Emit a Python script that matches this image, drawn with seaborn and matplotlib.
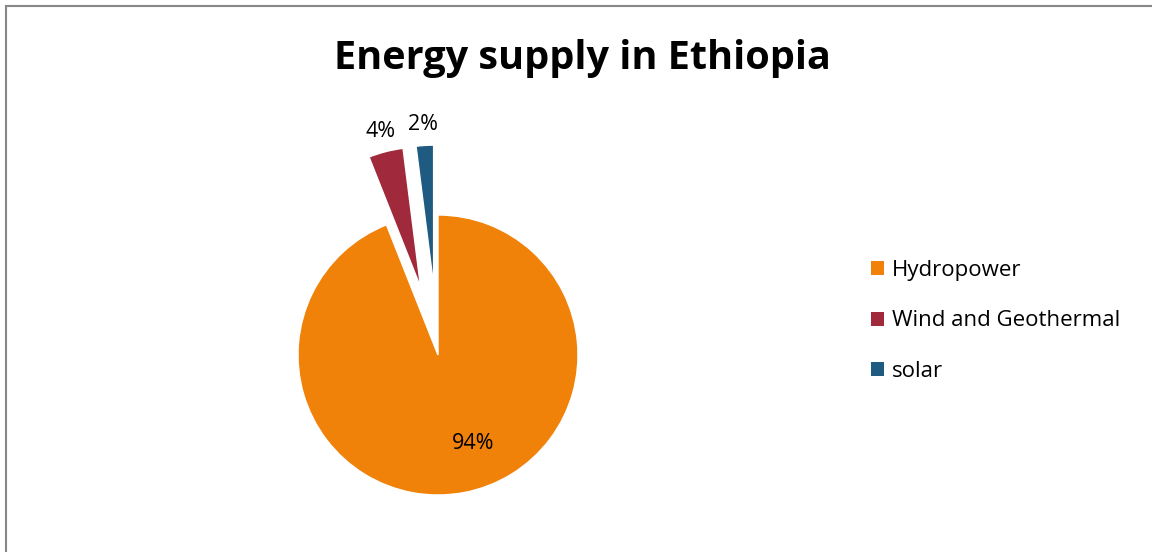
import numpy as np
import matplotlib
matplotlib.use("Agg")
import matplotlib.pyplot as plt
from matplotlib.patches import Rectangle, Patch
import seaborn as sns

categories = ["Hydropower", "Wind and Geothermal", "solar"]
values = [94, 4, 2]
colors = ["#F0820A", "#A02A3C", "#1F5A80"]
explode = [0.0, 0.5, 0.5]
title = "Energy supply in Ethiopia"

sns.set_theme(style="white")
plt.rcParams["font.family"] = ["Open Sans", "DejaVu Sans"]

W, H = 1152, 552
fig = plt.figure(figsize=(W / 100, H / 100), dpi=100)
fig.patch.set_facecolor("white")

# pie axes: center at px (438,355), radius 140 px
R = 140
cx, cy = 438, 355
x0, x1 = cx - 2 * R, cx + 2 * R
ytop, ybot = cy - 2.0 * R, cy + 1.4 * R
ax = fig.add_axes([x0 / W, (H - ybot) / H, (x1 - x0) / W, (ybot - ytop) / H])

wedges, texts, autotexts = ax.pie(
    values, colors=colors, explode=explode, startangle=90, counterclock=False,
    autopct=lambda p: f"{p:.0f}%", pctdistance=0.68,
    wedgeprops=dict(edgecolor="white", linewidth=1.0),
    textprops=dict(fontsize=15.5, color="#000000"),
)
ax.set_xlim(-2, 2)
ax.set_ylim(-1.4, 2.0)
ax.set_aspect("equal")
ax.axis("off")

# reposition labels of exploded slices outside the slice
for w, t, e in zip(wedges, autotexts, explode):
    ang = np.deg2rad((w.theta1 + w.theta2) / 2)
    if e > 0:
        d = e + 1.15
        t.set_position((d * np.cos(ang), d * np.sin(ang)))
    else:
        d = 0.64
        t.set_position((d * np.cos(ang) + 0.13, d * np.sin(ang)))

fig.text(582 / W, 1 - 59 / H, title, ha="center", va="center",
         fontsize=28.5, fontweight="bold", color="#000000")

handles = [Patch(facecolor=c, edgecolor="none") for c in colors]
leg = fig.legend(handles, categories, loc="center left",
                 bbox_to_anchor=(851 / W, 1 - 321 / H), frameon=False,
                 fontsize=16, handlelength=0.6, handleheight=0.6,
                 handletextpad=0.35, labelspacing=1.32)
for t in leg.get_texts():
    t.set_color("#000000")

fig.patches.append(Rectangle((6 / W, -0.2), 1.5, (H - 6) / H + 0.2,
                             transform=fig.transFigure, fill=False,
                             edgecolor="#888888", linewidth=1.5))

fig.savefig("out.png", dpi=100)
